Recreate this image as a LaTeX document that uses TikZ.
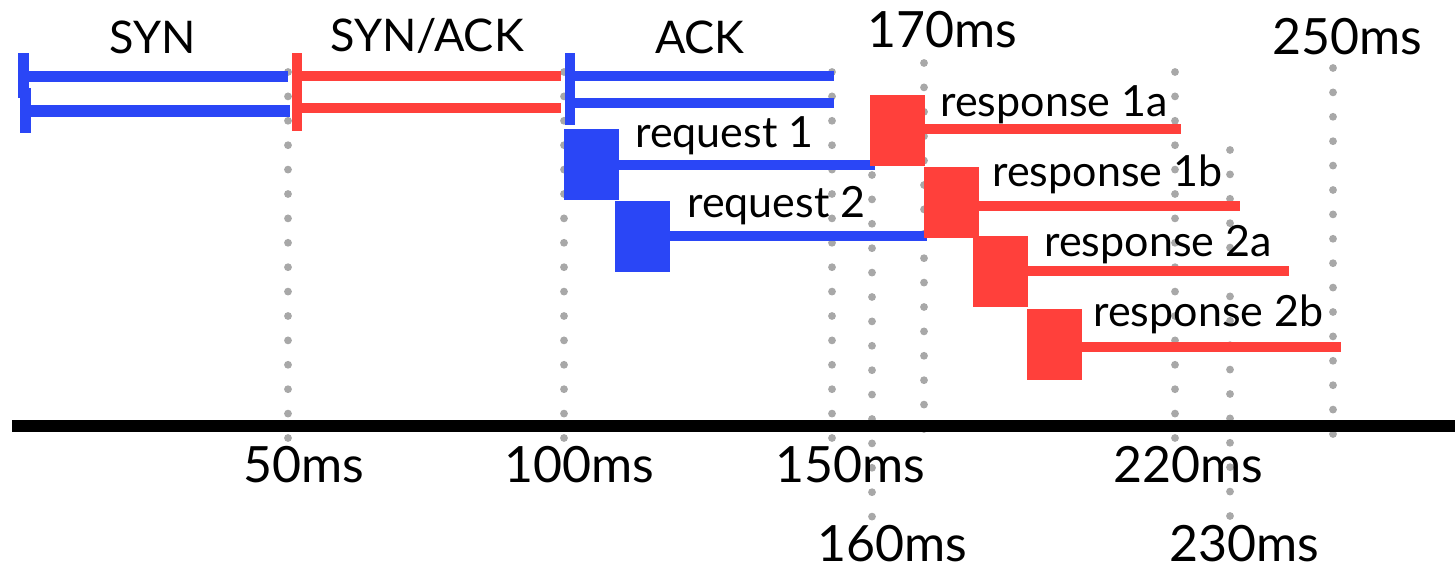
\documentclass[tikz,border=0pt]{standalone}
\usepackage{fontspec}
\setmainfont{Lato}
\definecolor{tblue}{RGB}{42,70,246}
\definecolor{tred}{RGB}{255,64,59}
\definecolor{dotgray}{RGB}{168,168,168}
\tikzset{
  dotline/.style={draw=dotgray, line width=3.9pt, line cap=round, dash pattern=on 0pt off 12.2pt},
  bigtxt/.style={font=\fontsize{25}{29}\selectfont, inner sep=0pt, anchor=base},
  hdtxt/.style={font=\fontsize{22.5}{26}\selectfont, inner sep=0pt, anchor=base},
  lbltxt/.style={font=\fontsize{21.5}{25}\selectfont, inner sep=0pt, anchor=base west},
  sqbox/.style={rectangle, inner sep=0pt, minimum width=27.5pt, minimum height=35.5pt},
  bluebox/.style={sqbox, fill=tblue},
  redbox/.style={sqbox, fill=tred},
  bline/.style={draw=tblue, line width=5pt},
  rline/.style={draw=tred, line width=5pt},
}
\begin{document}
\begin{tikzpicture}[x=0.5pt,y=-0.5pt]
\useasboundingbox (0,0) rectangle (1455,581);
% dotted time lines
\coordinate (d50a) at (288,72);   \coordinate (d50b) at (288,438);
\coordinate (d100a) at (564,72);  \coordinate (d100b) at (564,438);
\coordinate (d150a) at (832,72);  \coordinate (d150b) at (832,438);
\coordinate (d160a) at (872,175); \coordinate (d160b) at (872,517);
\coordinate (d170a) at (924,63);  \coordinate (d170b) at (924,430);
\coordinate (d220a) at (1175,72); \coordinate (d220b) at (1175,438);
\coordinate (d230a) at (1230,150);\coordinate (d230b) at (1230,516);
\coordinate (d250a) at (1333,68); \coordinate (d250b) at (1333,434);
\foreach \n in {50,100,150,160,170,220,230,250}
  \draw[dotline] (d\n a) -- (d\n b);
% axis
\coordinate (axL) at (12,426); \coordinate (axR) at (1455,426);
\draw[line width=6pt] (axL) -- (axR);
% SYN
\fill[tblue] (18,53) rectangle (29,98);
\fill[tblue] (20,88) rectangle (31,133);
\fill[tblue] (29,71) rectangle (288,82);
\fill[tblue] (31,105) rectangle (290,117);
% SYN/ACK
\fill[tred] (292,53) rectangle (302,131);
\fill[tred] (302,71) rectangle (561,81);
\fill[tred] (302,103) rectangle (561,113);
% ACK
\fill[tblue] (565,53) rectangle (575,125);
\fill[tblue] (575,71) rectangle (834,81);
\fill[tblue] (575,98) rectangle (834,108);
% requests
\node[bluebox] (q1) at (591.5,165) {};
\node[bluebox] (q2) at (642.5,236.5) {};
\coordinate (q1e) at (875,165);
\coordinate (q2e) at (927,236);
\draw[bline] (q1.east) -- (q1e);
\draw[bline] (q2.east |- q2e) -- (q2e);
% responses
\node[redbox] (p1a) at (897.5,130.5) {};
\node[redbox] (p1b) at (951.5,203) {};
\node[redbox] (p2a) at (1000.5,271.5) {};
\node[redbox] (p2b) at (1054.5,344.5) {};
\coordinate (p1ae) at (1181,129.5);
\coordinate (p1be) at (1240,206);
\coordinate (p2ae) at (1289,271);
\coordinate (p2be) at (1341,347);
\draw[rline] (p1a.east |- p1ae) -- (p1ae);
\draw[rline] (p1b.east |- p1be) -- (p1be);
\draw[rline] (p2a.east |- p2ae) -- (p2ae);
\draw[rline] (p2b.east |- p2be) -- (p2be);
% headings
\node[hdtxt] (tsyn) at (153,54) {SYN};
\node[hdtxt] (tsynack) at (427,52) {SYN/ACK};
\node[hdtxt] (tack) at (700,54) {ACK};
\node[bigtxt] (t170) at (942,48) {170ms};
\node[bigtxt] (t250) at (1347,55) {250ms};
% axis labels
\node[bigtxt] (t50) at (304,483) {50ms};
\node[bigtxt] (t100) at (579,483) {100ms};
\node[bigtxt] (t150) at (850,483) {150ms};
\node[bigtxt] (t220) at (1188,483) {220ms};
\node[bigtxt] (t160) at (892,562) {160ms};
\node[bigtxt] (t230) at (1244,562) {230ms};
% message labels
\node[lbltxt] (lq1) at (635,148) {request 1};
\node[lbltxt] (lq2) at (687,218) {request 2};
\node[lbltxt] (lp1a) at (940,117) {response 1a};
\node[lbltxt] (lp1b) at (992,187) {response 1b};
\node[lbltxt] (lp2a) at (1044,257) {response 2a};
\node[lbltxt] (lp2b) at (1093,327) {response 2b};
\end{tikzpicture}
\end{document}
